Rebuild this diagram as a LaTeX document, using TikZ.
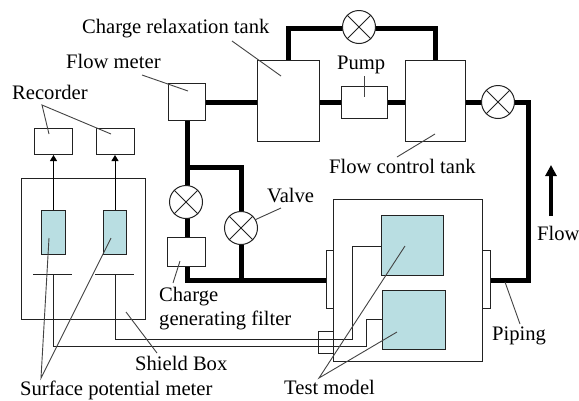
\documentclass[tikz,border=0pt]{standalone}
\usepackage{fontspec}
\setmainfont{Liberation Serif}
\usetikzlibrary{arrows.meta,calc}
\definecolor{teal1}{HTML}{B9DEE2}
\definecolor{ink}{HTML}{222222}
\tikzset{
  box/.style n args={4}{draw=ink,line width=1pt,fill=white,rectangle,inner sep=0pt,minimum width=#3-#1,minimum height=#4-#2,anchor=north west},
  modelbox/.style={fill=teal1},
  valve/.style={draw=ink,line width=1pt,fill=white,circle,inner sep=0pt,minimum size=33pt},
  pipe/.style={line width=5pt,black,line join=miter},
  wire/.style={line width=1pt,ink},
  leader/.style={line width=0.9pt,ink!85},
  lbl/.style={anchor=base west,inner sep=0pt,font=\fontsize{20.6}{22}\selectfont,text=black},
  sig/.style={line width=1pt,black,-{Triangle[length=6pt,width=7pt]}},
}
\begin{document}
\begin{tikzpicture}[x=1pt,y=-1pt]
\path[use as bounding box,fill=white] (0,0) rectangle (579,400);
% coordinates
\coordinate (topL) at (288,28); \coordinate (topR) at (435,28);
\coordinate (rc) at (528,102); \coordinate (rb) at (528,280);
\coordinate (fb) at (187,280); \coordinate (bj) at (241,167);
\coordinate (bb) at (241,280); \coordinate (fj) at (187,167);
\coordinate (wa1) at (352,246); \coordinate (wa2) at (352,339);
\coordinate (wa3) at (115,339); \coordinate (wa4) at (115,274);
\coordinate (wb1) at (366,319); \coordinate (wb2) at (366,346);
\coordinate (wb3) at (53,346); \coordinate (wb4) at (53,274);
% pipes
\draw[pipe] (187,102) -- (288,102);
\draw[pipe] (288,60) -- (topL) -- (topR) -- (435,60);
\draw[pipe] (319,102) -- (528,102) -- (rb) -- (490,280);
\draw[pipe] (187,120) -- (fb) -- (326,280);
\draw[pipe] (fj) -- (bj) -- (bb);
% stubs and large box
\node[box={326}{250}{334}{308}] (stubL) at (326,250) {};
\node[box={482}{250}{490}{308}] (stubR) at (482,250) {};
\node[box={333}{199}{482}{361}] (chamber) at (333,199) {};
% equipment
\node[box={168}{83}{205}{120}] (fm) at (168,83) {};
\node[box={257}{60}{319}{141}] (crt) at (257,60) {};
\node[box={341}{86}{387}{118}] (pump) at (341,86) {};
\node[box={405}{60}{465}{141}] (fct) at (405,60) {};
\node[box={167}{237}{205}{266}] (cgf) at (167,237) {};
% valves
\node[valve] (v1) at (359,27) {};
\node[valve] (v2) at (498,102) {};
\node[valve] (v3) at (186,202) {};
\node[valve] (v4) at (241,228) {};
\foreach \v in {v1,v2,v3,v4}{
  \draw[wire] (\v.45) -- (\v.225) (\v.135) -- (\v.315);
}
% test models
\node[box={381}{215}{443}{275},modelbox] (tm1) at (381,215) {};
\node[box={382}{290}{445}{349},modelbox] (tm2) at (382,290) {};
% shield box
\node[box={21}{178}{145}{319},fill=none] (sb) at (21,178) {};
\node[box={41}{210}{65}{254},modelbox] (m1) at (41,210) {};
\node[box={103}{210}{126}{254},modelbox] (m2) at (103,210) {};
\node[box={34}{128}{72}{154}] (r1) at (34,128) {};
\node[box={96}{128}{134}{154}] (r2) at (96,128) {};
\draw[sig] (m1.north) -- (m1.north |- r1.south);
\draw[sig] (m2.north) -- (m2.north |- r2.south);
% probes and wires
\coordinate (p1a) at (33,274); \coordinate (p1b) at (72,274);
\coordinate (p2a) at (95,274); \coordinate (p2b) at (134,274);
\draw[wire] (p1a) -- (p1b) (p2a) -- (p2b);
\draw[wire] (tm1.west |- wa1) -- (wa1) -- (wa2) -- (wa3) -- (wa4);
\draw[wire] (tm2.west |- wb1) -- (wb1) -- (wb2) -- (wb3) -- (wb4);
\node[box={318}{331}{333}{353},fill=none] (gland) at (318,331) {};
% flow arrow
\coordinate (fa) at (551,216); \coordinate (fz) at (551,165);
\draw[line width=4pt,black,-{Triangle[length=11pt,width=11pt]}] (fa) -- (fz);
% labels
\node[lbl] (tCrt) at (82,33) {Charge relaxation tank};
\node[lbl] (tFm) at (66,68) {Flow meter};
\node[lbl] (tRec) at (12,99) {Recorder};
\node[lbl] (tPump) at (337,69) {Pump};
\node[lbl] (tFct) at (329,173) {Flow control tank};
\node[lbl] (tValve) at (267,202) {Valve};
\node[lbl] (tFlow) at (537,240) {Flow};
\node[lbl] (tCh) at (159,301) {Charge};
\node[lbl] (tGen) at (159,325) {generating filter};
\node[lbl] (tPip) at (492,340) {Piping};
\node[lbl] (tSh) at (135,370) {Shield Box};
\node[lbl] (tSur) at (20,395) {Surface potential meter};
\node[lbl] (tTest) at (284,394) {Test model};
% leaders
\coordinate (a1) at (232,41); \coordinate (a2) at (281,76);
\draw[leader] (a1) -- (a2);
\coordinate (b1) at (142,75); \coordinate (b2) at (188,91);
\draw[leader] (b1) -- (b2);
\coordinate (c0) at (42,105); \coordinate (c1) at (49,134); \coordinate (c2) at (111,134);
\draw[leader] (c1) -- (c0) -- (c2);
\coordinate (d1) at (364,76); \coordinate (d2) at (364,97);
\draw[leader] (d1) -- (d2);
\coordinate (e1) at (397,157); \coordinate (e2) at (435,134);
\draw[leader] (e1) -- (e2);
\coordinate (f1) at (281,208);
\draw[leader] (f1) -- (v4.30);
\coordinate (g1) at (173,283); \coordinate (g2) at (180,261);
\draw[leader] (g1) -- (g2);
\coordinate (h1) at (157,353); \coordinate (h2) at (126,312);
\draw[leader] (h1) -- (h2);
\coordinate (i0) at (41,378); \coordinate (i1) at (49,238); \coordinate (i2) at (111,238);
\draw[leader] (i1) -- (i0) -- (i2);
\coordinate (j0) at (319,378); \coordinate (j1) at (405,246); \coordinate (j2) at (397,332);
\draw[leader] (j1) -- (j0) -- (j2);
\coordinate (k1) at (520,324); \coordinate (k2) at (505,282);
\draw[leader] (k1) -- (k2);
\end{tikzpicture}
\end{document}
